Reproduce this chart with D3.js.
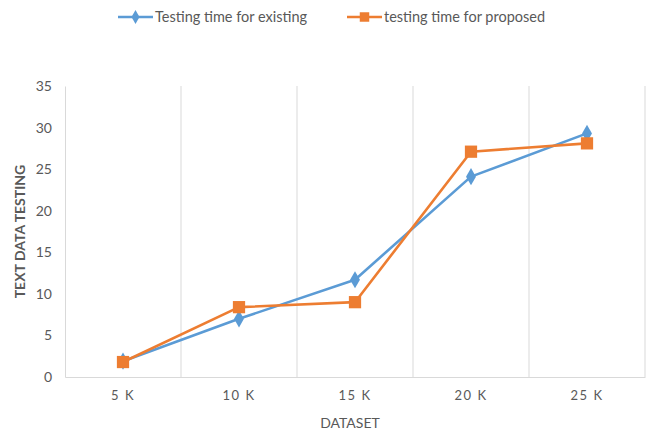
<!DOCTYPE html>
<html>
<head>
<meta charset="utf-8">
<script src="https://cdn.jsdelivr.net/npm/d3@7"></script>
<style>
  html, body { margin: 0; padding: 0; background: #fff; }
  svg { display: block; font-family: Lato, "Open Sans", sans-serif; }
</style>
</head>
<body>
<svg id="chart" width="656" height="434"></svg>
<script>
// Dataset sizes on the x axis
const categories = ["5 K", "10 K", "15 K", "20 K", "25 K"];
// Testing time of the existing method
const existing = [1.9, 7.0, 11.7, 24.1, 29.3];
// Testing time of the proposed method
const proposed = [1.8, 8.4, 9.0, 27.1, 28.1];
const yTicks = [0, 5, 10, 15, 20, 25, 30, 35];
const seriesNames = ["Testing time for existing", "testing time for proposed"];

const svg = d3.select("#chart");
const margin = { left: 65, right: 11, top: 86, bottom: 57 };
const W = 656, H = 434;

const x = d3.scaleBand().domain(categories).range([margin.left, W - margin.right]);
const y = d3.scaleLinear().domain([0, 35]).range([H - margin.bottom, margin.top]);

const textColor = "#595959";
const gridColor = "#d9d9d9";

// vertical gridlines between categories
const bounds = categories.slice(1).map(c => x(c)).concat([x.range()[1]]);
svg.append("g").selectAll("line").data(bounds).join("line")
  .attr("x1", d => d).attr("x2", d => d)
  .attr("y1", y(35)).attr("y2", y(0))
  .attr("stroke", gridColor).attr("stroke-width", 1);

// y axis
const yAxis = svg.append("g")
  .attr("transform", `translate(${margin.left},0)`)
  .call(d3.axisLeft(y).tickValues(yTicks).tickSize(0).tickPadding(13));
yAxis.select(".domain").attr("stroke", gridColor);
yAxis.selectAll("text").attr("fill", textColor).style("font-size", "14px")
  .style("font-family", "Lato, sans-serif");

// x axis
const xAxis = svg.append("g")
  .attr("transform", `translate(0,${y(0)})`)
  .call(d3.axisBottom(x).tickSize(0).tickPadding(14));
xAxis.select(".domain").attr("stroke", gridColor);
xAxis.selectAll("text").attr("fill", textColor).style("font-size", "13px")
  .style("letter-spacing", "1.5px").style("font-family", "Lato, sans-serif");

// axis titles
svg.append("text")
  .attr("x", x.range()[0] + (x.range()[1] - x.range()[0]) / 2 - 5)
  .attr("y", 428)
  .attr("text-anchor", "middle")
  .attr("fill", textColor).style("font-size", "14px")
  .text("DATASET");

svg.append("text")
  .attr("transform", `translate(25,${(y(0) + y(35)) / 2}) rotate(-90)`)
  .attr("text-anchor", "middle")
  .attr("fill", textColor).style("font-size", "14px").style("font-weight", "bold")
  .text("TEXT DATA TESTING");

const colors = ["#5b9bd5", "#ed7d31"];
const cx = c => x(c) + x.bandwidth() / 2;
const line = d3.line().x((d, i) => cx(categories[i])).y(d => y(d));

const diamond = d3.symbol().type(d3.symbolDiamond).size(85);
const square = d3.symbol().type(d3.symbolSquare).size(150);

[existing, proposed].forEach((vals, s) => {
  svg.append("path").datum(vals)
    .attr("d", line).attr("fill", "none")
    .attr("stroke", colors[s]).attr("stroke-width", 2.6)
    .attr("stroke-linejoin", "round");
  svg.append("g").selectAll("path").data(vals).join("path")
    .attr("d", s === 0 ? diamond : square)
    .attr("transform", (d, i) => `translate(${cx(categories[i])},${y(d)})`)
    .attr("fill", colors[s]);
});

// legend
const legendItems = [
  { x: 118, name: seriesNames[0], sym: d3.symbol().type(d3.symbolDiamond).size(55) },
  { x: 347, name: seriesNames[1], sym: d3.symbol().type(d3.symbolSquare).size(90) }
];
legendItems.forEach((it, s) => {
  const g = svg.append("g").attr("transform", `translate(${it.x},17)`);
  g.append("line").attr("x1", 0).attr("x2", 35).attr("stroke", colors[s]).attr("stroke-width", 2.6);
  g.append("path").attr("d", it.sym).attr("transform", "translate(17.5,0)").attr("fill", colors[s]);
  g.append("text").attr("x", 37).attr("dy", "0.35em")
    .attr("fill", textColor).style("font-size", "14.5px").text(it.name);
});
</script>
</body>
</html>
